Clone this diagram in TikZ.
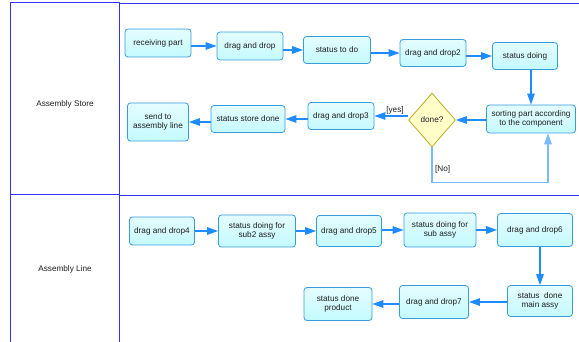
\documentclass[tikz,border=0pt]{standalone}
\usepackage{fontspec}
\setmainfont{Liberation Sans}
\usetikzlibrary{arrows.meta,shapes.geometric}
\tikzset{
  lane/.style={
    draw=laneblue,
    line width=1pt
  },
  task/.style={
    rectangle,
    rounded corners=3pt,
    draw=boxborder,
    line width=0.8pt,
    top color=white!55!boxfill,
    bottom color=boxfill,
    text=textgray,
    align=center,
    inner sep=1pt,
    font=\fontsize{8.2}{9.4}\selectfont
  },
  decision/.style={diamond, draw=decborder, fill=decfill, line width=0.8pt, inner sep=0pt, text=textgray, font=\fontsize{8.2}{9.4}\selectfont},
  flow/.style={draw=flowblue, line width=1.2pt, -{Triangle[length=11pt,width=7.5pt]}},
  flow-loop/.style={flow, draw=loopblue},
  guard/.style={text=textgray, inner sep=0pt, font=\fontsize{8.2}{9.4}\selectfont},
  lane-label/.style={text=textgray, font=\fontsize{8.2}{9.4}\selectfont}
}
\definecolor{laneblue}{RGB}{50,50,255}
\definecolor{boxborder}{RGB}{55,155,220}
\definecolor{boxfill}{RGB}{196,250,255}
\definecolor{flowblue}{RGB}{30,140,255}
\definecolor{loopblue}{RGB}{120,185,255}
\definecolor{decfill}{RGB}{255,255,200}
\definecolor{decborder}{RGB}{185,175,40}
\definecolor{textgray}{RGB}{30,30,30}

\begin{document}
\begin{tikzpicture}[x=1pt,y=-1pt]
  \clip (0,0) rectangle (579,342);

  % swim lanes
  \draw[lane] (10,3) rectangle (119,195);
  \draw[lane] (119,4) rectangle (600,196);
  \draw[lane] (10,195) rectangle (119,360);
  \draw[lane] (119,196) rectangle (600,360);
  \node[lane-label] (store-lane) at (65,104) {Assembly Store};
  \node[lane-label] (line-lane) at (65,269) {Assembly Line};

  % tasks: name/x/y/width/height/text
  \foreach \n/\x/\y/\w/\h/\t in {
      recv/158/43/66/28/{receiving part},
      dd1/250/46/66/28/{drag and drop},
      todo/337/50/67/27/{status to do},
      dd2/433/53/66/27/{drag and drop2},
      doing/525/56/65/27/{status doing},
      sort/531/119/89/28/{sorting part according\\to the component},
      dd3/341/116/66/27/{drag and drop3},
      storedone/248/119/74/27/{status store done},
      send/158/122/61/38/{send to\\assembly line},
      dd4/162/231/65/28/{drag and drop4},
      sub2/257/231/77/32/{status doing for\\sub2 assy},
      dd5/349/231/65/31/{drag and drop5},
      sub/440/230/72/34/{status doing for\\sub assy},
      dd6/535/230/75/33/{drag and drop6},
      main/540/301/65/31/{status~~done\\main assy},
      dd7/434/302/69/33/{drag and drop7},
      product/338/304/68/33/{status done\\product}}{
    \node[task, minimum width=\w pt, minimum height=\h pt] (\n) at (\x,\y) {\t};
  }
  \node[decision, minimum width=47pt, minimum height=54pt] (done) at (432,120) {done?};

  % store lane
  \foreach \a/\b in {recv/dd1,dd1/todo,todo/dd2,dd2/doing}{
    \draw[flow] (\b.west -| \a.east) -- (\b.west);
  }
  \draw[flow] (doing.south -| sort.north) -- (sort.north);
  \foreach \a/\b in {sort/done,done/dd3,dd3/storedone,storedone/send}{
    \draw[flow] (\b.east -| \a.west) -- (\b.east);
  }
  \node[guard] (yes-label) at (395,110) {[yes]};
  \draw[flow-loop] (done.south) -- ++(0,35) -| ([xshift=17pt]sort.south);
  \node[guard, anchor=west] (no-label) at (435,169) {[No]};

  % line lane
  \foreach \a/\b in {dd4/sub2,sub2/dd5,dd5/sub,sub/dd6}{
    \draw[flow] (\b.west -| \a.east) -- (\b.west);
  }
  \draw[flow] (dd6.south -| main.north) -- (main.north);
  \foreach \a/\b in {main/dd7,dd7/product}{
    \draw[flow] (\b.east -| \a.west) -- (\b.east);
  }
\end{tikzpicture}
\end{document}
